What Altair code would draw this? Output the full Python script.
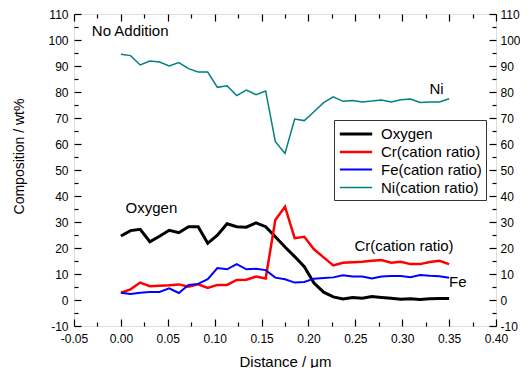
import altair as alt
import pandas as pd

# ---------------- data ----------------
distance = [0.0000, 0.0103, 0.0206, 0.0309, 0.0412, 0.0515, 0.0618, 0.0721, 0.0824, 0.0926,
            0.1029, 0.1132, 0.1235, 0.1338, 0.1441, 0.1544, 0.1647, 0.1750, 0.1853, 0.1956,
            0.2059, 0.2162, 0.2265, 0.2368, 0.2471, 0.2574, 0.2676, 0.2779, 0.2882, 0.2985,
            0.3088, 0.3191, 0.3294, 0.3397, 0.3500]

oxygen = [24.6, 26.7, 27.2, 22.4, 24.5, 26.8, 25.9, 28.2, 28.2, 21.8,
          24.9, 29.3, 28.2, 28.0, 29.7, 28.2, 24.3, 20.4, 16.7, 12.8,
          6.5, 3.0, 1.2, 0.4, 1.0, 0.7, 1.3, 1.0, 0.7, 0.3,
          0.5, 0.2, 0.5, 0.6, 0.6]

cr = [2.8, 4.1, 6.7, 5.3, 5.5, 5.7, 6.0, 5.1, 6.0, 4.6,
      5.8, 5.8, 7.7, 7.8, 9.0, 8.3, 30.8, 35.9, 23.8, 24.3,
      19.5, 16.4, 13.3, 14.3, 14.5, 14.7, 15.1, 15.4, 14.3, 14.7,
      13.8, 13.8, 14.6, 15.1, 13.8]

fe = [2.8, 2.3, 2.8, 3.1, 3.1, 4.5, 2.7, 5.8, 6.2, 8.0,
      12.3, 11.8, 13.8, 11.8, 12.0, 11.5, 8.6, 8.0, 6.7, 6.9,
      8.2, 8.5, 8.7, 9.5, 9.0, 9.0, 8.3, 9.0, 9.2, 9.2,
      8.8, 9.6, 9.3, 9.1, 8.6]

ni = [94.5, 94.0, 90.4, 91.9, 91.5, 90.0, 91.3, 89.0, 87.7, 87.7,
      81.8, 82.4, 78.6, 80.7, 79.0, 80.4, 60.9, 56.4, 69.6, 69.0,
      72.4, 75.9, 78.1, 76.4, 76.7, 76.2, 76.5, 76.9, 76.2, 77.0,
      77.3, 76.0, 76.2, 76.2, 77.4]

series_names = ["Oxygen", "Cr(cation ratio)", "Fe(cation ratio)", "Ni(cation ratio)"]
series_colors = ["#000000", "#ff0000", "#0000ff", "#008080"]
series_widths = [3.0, 1.5, 1.5, 1.5]

x_major = [-0.05, 0.0, 0.05, 0.10, 0.15, 0.20, 0.25, 0.30, 0.35, 0.40]
x_minor = [-0.025, 0.025, 0.075, 0.125, 0.175, 0.225, 0.275, 0.325, 0.375]
y_major = [-10, 0, 10, 20, 30, 40, 50, 60, 70, 80, 90, 100, 110]
y_minor = [-5, 5, 15, 25, 35, 45, 55, 65, 75, 85, 95, 105]

ann_text = ["No Addition", "Ni", "Oxygen", "Cr(cation ratio)", "Fe"]
ann_x = [-0.031, 0.329, 0.005, 0.249, 0.350]
ann_y = [103.5, 81.0, 35.3, 20.8, 6.8]

# ---------------- tables ----------------
rows = []
for name, vals in zip(series_names, [oxygen, cr, fe, ni]):
    for d, v in zip(distance, vals):
        rows.append({"d": d, "v": v, "series": name})
df = pd.DataFrame(rows)
ann = pd.DataFrame({"ax": ann_x, "ay": ann_y, "label": ann_text})

FONT = "Liberation Sans"
xs = alt.Scale(domain=[-0.05, 0.40], nice=False, zero=False)
ys = alt.Scale(domain=[-10, 110], nice=False, zero=False)

x_lab = "datum.value < 0 ? '-' + format(-datum.value, '.2f') : format(datum.value, '.2f')"
y_lab = "datum.value < 0 ? '-' + format(-datum.value, 'd') : format(datum.value, 'd')"

common = dict(domain=False, grid=False, tickColor="black", tickWidth=1.2,
              labelOverlap=False, labelFlush=False)

ax_bottom = alt.Axis(orient="bottom", values=x_major, labelExpr=x_lab, offset=-7, tickSize=7,
                     labelPadding=7, labelFontSize=12, labelFont=FONT, labelColor="black",
                     title="Distance / μm", titleFont=FONT, titleFontSize=15,
                     titleFontWeight="normal", titleColor="black", titlePadding=10, **common)
ax_bottom_minor = alt.Axis(orient="bottom", values=x_minor, labels=False, offset=-4, tickSize=4,
                           title=None, **common)
ax_top = alt.Axis(orient="top", values=x_major, labels=False, offset=-7, tickSize=7,
                  title=None, **common)
ax_top_minor = alt.Axis(orient="top", values=x_minor, labels=False, offset=-4, tickSize=4,
                        title=None, **common)

ax_left = alt.Axis(orient="left", values=y_major, labelExpr=y_lab, offset=-7, tickSize=7,
                   labelPadding=6, labelFontSize=12, labelFont=FONT, labelColor="black",
                   title="Composition / wt%", titleFont=FONT, titleFontSize=14,
                   titleFontWeight="normal", titleColor="black", titlePadding=21,
                   titleY=142, **common)
ax_left_minor = alt.Axis(orient="left", values=y_minor, labels=False, offset=-4, tickSize=4,
                         title=None, **common)
ax_right = alt.Axis(orient="right", values=y_major, labelExpr=y_lab, offset=-7, tickSize=7,
                    labelPadding=4, labelFontSize=12, labelFont=FONT, labelColor="black",
                    title=None, **common)
ax_right_minor = alt.Axis(orient="right", values=y_minor, labels=False, offset=-4, tickSize=4,
                          title=None, **common)

legend = alt.Legend(orient="none", legendX=260, legendY=106, title=None,
                    symbolType="M-1.9,0H1.9", symbolSize=289, symbolOffset=8,
                    labelOffset=15, labelFontSize=15, labelFont=FONT, labelColor="black",
                    strokeColor="#333333", fillColor="white", padding=4, rowPadding=0)

base = alt.Chart(df)

lines = base.mark_line().encode(
    x=alt.X("d:Q", scale=xs, axis=ax_bottom),
    y=alt.Y("v:Q", scale=ys, axis=ax_left),
    color=alt.Color("series:N", scale=alt.Scale(domain=series_names, range=series_colors),
                    legend=legend),
    strokeWidth=alt.StrokeWidth("series:N",
                                scale=alt.Scale(domain=series_names, range=series_widths),
                                legend=legend),
    order=alt.Order("d:Q"),
)

def ghost(xa, ya):
    return base.mark_line(strokeOpacity=0).encode(
        x=alt.X("d:Q", scale=xs, axis=xa),
        y=alt.Y("v:Q", scale=ys, axis=ya),
        detail="series:N",
    )

texts = alt.Chart(ann).mark_text(align="left", baseline="middle", fontSize=15, font=FONT,
                                 color="black").encode(
    x=alt.X("ax:Q", scale=xs, axis=None),
    y=alt.Y("ay:Q", scale=ys, axis=None),
    text="label:N",
)

chart = alt.layer(
    lines,
    ghost(ax_bottom_minor, ax_left_minor),
    ghost(ax_top, ax_right),
    ghost(ax_top_minor, ax_right_minor),
    texts,
).resolve_axis(x="independent", y="independent").properties(
    width=422, height=312,
    autosize=alt.AutoSizeParams(type="none"),
    padding={"left": 66, "top": 6, "right": 24, "bottom": 42},
).configure_view(stroke="black", strokeWidth=1.5).configure(background="white")

chart.save("out.html", embed_options={"renderer": "svg", "actions": False})
